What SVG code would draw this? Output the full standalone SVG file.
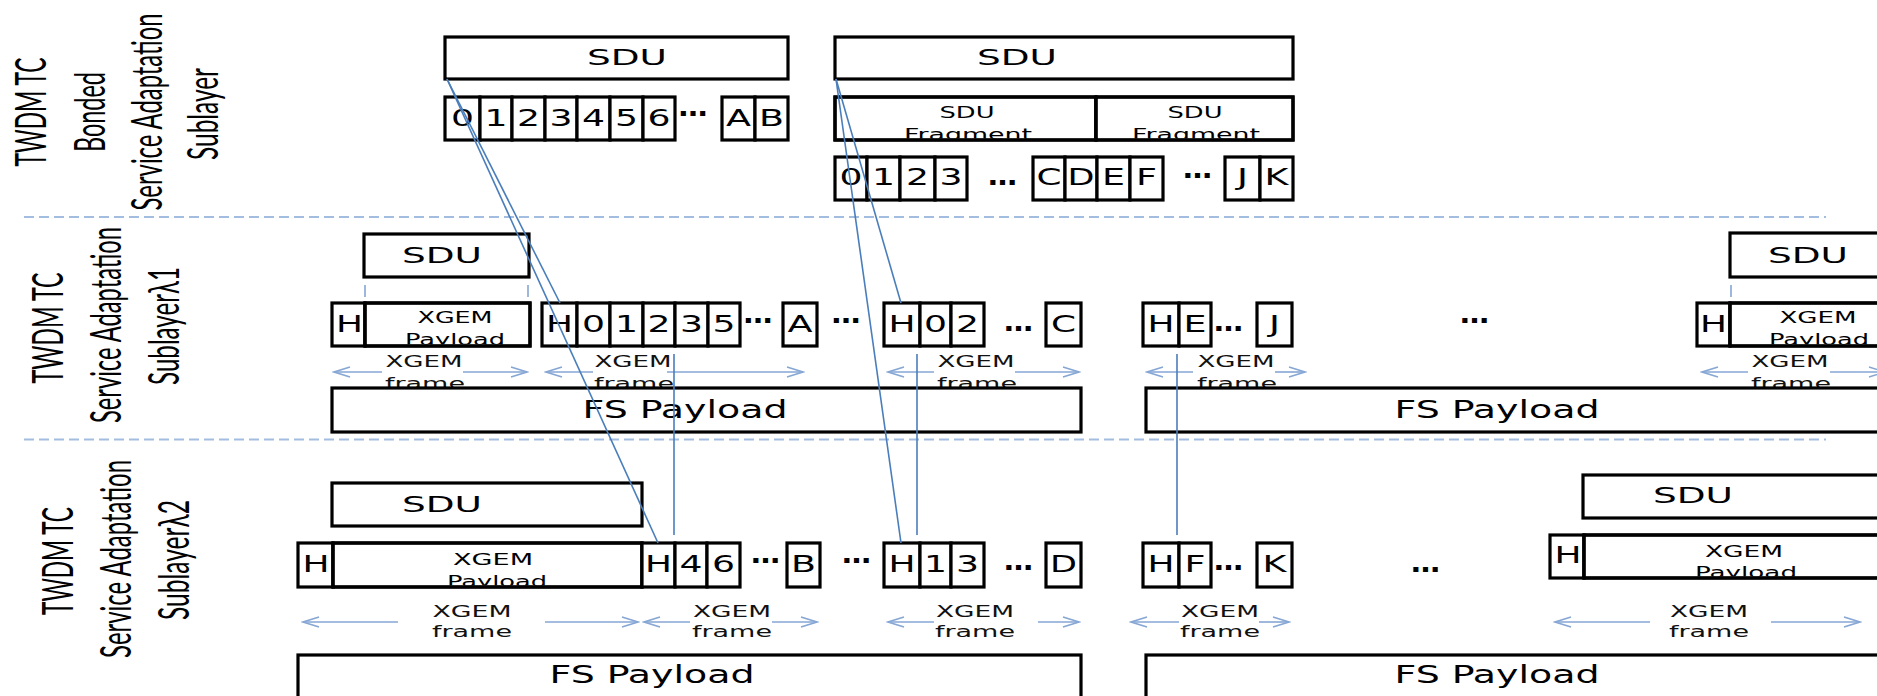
<svg xmlns="http://www.w3.org/2000/svg" width="1877" height="696" viewBox="0 0 1877 696">
<style>
.b{fill:#fff;stroke:#000;stroke-width:3.2}
.bo{fill:none;stroke:#000;stroke-width:3.2}
.t{font-family:"DejaVu Sans",sans-serif;fill:#000;text-anchor:middle}
.d{font-size:23px}
.s22{font-size:22px}
.s16{font-size:16px}
.s15{font-size:15px}
.s25{font-size:25px}
.el{font-family:"DejaVu Sans",sans-serif;font-size:26px;font-weight:bold;text-anchor:middle;fill:#000}
.lab{font-family:Lato,"Liberation Sans",sans-serif;font-size:24px;text-anchor:middle;fill:#000}
.sep{stroke:#a3bde0;stroke-width:1.8;stroke-dasharray:10 5;fill:none}
.conn{stroke:#4a7ebb;stroke-width:1.6;fill:none}
.arr{stroke:#86a6d4;stroke-width:1.6;fill:none}
.dash{stroke:#86a6d4;stroke-width:1.6}
.fr{font-family:"DejaVu Sans",sans-serif;font-size:16px;fill:#111;text-anchor:middle}
</style>
<defs>
<marker id="ah" markerUnits="userSpaceOnUse" markerWidth="20" markerHeight="14" viewBox="0 0 20 14" refX="18" refY="7" orient="auto">
<path d="M2,2 L18,7 L2,12" fill="none" stroke="#86a6d4" stroke-width="1.6"/>
</marker>
<clipPath id="cf1"><rect x="836" y="98" width="258" height="40.5"/></clipPath>
<clipPath id="cf2"><rect x="1097" y="98" width="194" height="40.5"/></clipPath>
<clipPath id="cp1"><rect x="366" y="304" width="162" height="40.5"/></clipPath>
<clipPath id="cp2"><rect x="1731" y="304" width="160" height="40.5"/></clipPath>
<clipPath id="cp3"><rect x="334" y="544" width="307" height="41.5"/></clipPath>
<clipPath id="cp4"><rect x="1585" y="536" width="300" height="40.5"/></clipPath>
</defs>
<rect x="0" y="0" width="1877" height="696" fill="#fff"/>

<g id="separators">
<line class="sep" x1="24" y1="217" x2="1826" y2="217"/>
<line class="sep" x1="24" y1="439.5" x2="1826" y2="439.5"/>
</g>

<g id="layer-labels">
<text class="lab" transform="translate(46,112) rotate(-90) scale(1,1.8)" textLength="109" lengthAdjust="spacingAndGlyphs">TWDM TC</text>
<text class="lab" transform="translate(105,112) rotate(-90) scale(1,1.8)" textLength="80" lengthAdjust="spacingAndGlyphs">Bonded</text>
<text class="lab" transform="translate(162,112) rotate(-90) scale(1,1.8)" textLength="197" lengthAdjust="spacingAndGlyphs">Service Adaptation</text>
<text class="lab" transform="translate(218,114) rotate(-90) scale(1,1.8)" textLength="92" lengthAdjust="spacingAndGlyphs">Sublayer</text>
<text class="lab" transform="translate(63,328) rotate(-90) scale(1,1.8)" textLength="111" lengthAdjust="spacingAndGlyphs">TWDM TC</text>
<text class="lab" transform="translate(121,325) rotate(-90) scale(1,1.8)" textLength="196" lengthAdjust="spacingAndGlyphs">Service Adaptation</text>
<text class="lab" transform="translate(179,326) rotate(-90) scale(1,1.8)" textLength="118" lengthAdjust="spacingAndGlyphs">Sublayerλ1</text>
<text class="lab" transform="translate(73,561) rotate(-90) scale(1,1.8)" textLength="108" lengthAdjust="spacingAndGlyphs">TWDM TC</text>
<text class="lab" transform="translate(131,559) rotate(-90) scale(1,1.8)" textLength="198" lengthAdjust="spacingAndGlyphs">Service Adaptation</text>
<text class="lab" transform="translate(189,560) rotate(-90) scale(1,1.8)" textLength="120" lengthAdjust="spacingAndGlyphs">Sublayerλ2</text>
</g>

<!-- Bonded layer -->
<g id="sdu-top-left">
<rect class="b" x="445" y="37" width="343" height="42"/>
<text class="t s22" x="627" y="65" textLength="80" lengthAdjust="spacingAndGlyphs">SDU</text>
</g>
<g id="sdu-top-right">
<rect class="b" x="835" y="37" width="458" height="42"/>
<text class="t s22" x="1017" y="65" textLength="80" lengthAdjust="spacingAndGlyphs">SDU</text>
</g>
<g id="fragment-1">
<rect class="b" x="835" y="97" width="261" height="43"/>
<g clip-path="url(#cf1)">
<text class="t s16" x="967" y="118" textLength="55" lengthAdjust="spacingAndGlyphs">SDU</text>
<text class="t s16" x="968" y="140" textLength="128" lengthAdjust="spacingAndGlyphs">Fragment</text>
</g>
<rect class="bo" x="835" y="97" width="261" height="43"/>
</g>
<g id="fragment-2">
<rect class="b" x="1096" y="97" width="197" height="43"/>
<g clip-path="url(#cf2)">
<text class="t s16" x="1195" y="118" textLength="55" lengthAdjust="spacingAndGlyphs">SDU</text>
<text class="t s16" x="1196" y="140" textLength="128" lengthAdjust="spacingAndGlyphs">Fragment</text>
</g>
<rect class="bo" x="1096" y="97" width="197" height="43"/>
</g>

<g id="blocks-left">
<rect class="b" x="445" y="97" width="35" height="43"/><text class="t d" x="462.5" y="126" textLength="23" lengthAdjust="spacingAndGlyphs">0</text>
<rect class="b" x="480" y="97" width="32" height="43"/><text class="t d" x="496" y="126" textLength="23" lengthAdjust="spacingAndGlyphs">1</text>
<rect class="b" x="512" y="97" width="33" height="43"/><text class="t d" x="528.5" y="126" textLength="23" lengthAdjust="spacingAndGlyphs">2</text>
<rect class="b" x="545" y="97" width="32" height="43"/><text class="t d" x="561" y="126" textLength="23" lengthAdjust="spacingAndGlyphs">3</text>
<rect class="b" x="577" y="97" width="33" height="43"/><text class="t d" x="593.5" y="126" textLength="23" lengthAdjust="spacingAndGlyphs">4</text>
<rect class="b" x="610" y="97" width="33" height="43"/><text class="t d" x="626.5" y="126" textLength="23" lengthAdjust="spacingAndGlyphs">5</text>
<rect class="b" x="643" y="97" width="32" height="43"/><text class="t d" x="659" y="126" textLength="23" lengthAdjust="spacingAndGlyphs">6</text>
<text class="el" x="693" y="115.5" textLength="29" lengthAdjust="spacingAndGlyphs">…</text>
<rect class="b" x="722" y="97" width="33" height="43"/><text class="t d" x="738.5" y="126" textLength="25" lengthAdjust="spacingAndGlyphs">A</text>
<rect class="b" x="755" y="97" width="33" height="43"/><text class="t d" x="771.5" y="126" textLength="25" lengthAdjust="spacingAndGlyphs">B</text>
</g>

<g id="blocks-right">
<rect class="b" x="835" y="157" width="32" height="43"/><text class="t d" x="851" y="185" textLength="23" lengthAdjust="spacingAndGlyphs">0</text>
<rect class="b" x="867" y="157" width="33" height="43"/><text class="t d" x="883.5" y="185" textLength="23" lengthAdjust="spacingAndGlyphs">1</text>
<rect class="b" x="900" y="157" width="35" height="43"/><text class="t d" x="917.5" y="185" textLength="23" lengthAdjust="spacingAndGlyphs">2</text>
<rect class="b" x="935" y="157" width="32" height="43"/><text class="t d" x="951" y="185" textLength="23" lengthAdjust="spacingAndGlyphs">3</text>
<text class="el" x="1002.5" y="184.5" textLength="29" lengthAdjust="spacingAndGlyphs">…</text>
<rect class="b" x="1033" y="157" width="32" height="43"/><text class="t d" x="1049" y="185" textLength="25" lengthAdjust="spacingAndGlyphs">C</text>
<rect class="b" x="1065" y="157" width="32" height="43"/><text class="t d" x="1081" y="185" textLength="27" lengthAdjust="spacingAndGlyphs">D</text>
<rect class="b" x="1097" y="157" width="33" height="43"/><text class="t d" x="1113.5" y="185" textLength="23" lengthAdjust="spacingAndGlyphs">E</text>
<rect class="b" x="1130" y="157" width="33" height="43"/><text class="t d" x="1146.5" y="185" textLength="21" lengthAdjust="spacingAndGlyphs">F</text>
<text class="el" x="1197.5" y="177.5" textLength="29" lengthAdjust="spacingAndGlyphs">…</text>
<rect class="b" x="1225" y="157" width="35" height="43"/><text class="t d" x="1242.5" y="185" textLength="11" lengthAdjust="spacingAndGlyphs">J</text>
<rect class="b" x="1260" y="157" width="33" height="43"/><text class="t d" x="1276.5" y="185" textLength="24" lengthAdjust="spacingAndGlyphs">K</text>
</g>

<!-- lambda 1 layer -->
<g id="l1-sdu-left">
<rect class="b" x="364" y="234" width="165" height="43"/>
<text class="t s22" x="442" y="263" textLength="80" lengthAdjust="spacingAndGlyphs">SDU</text>
<line class="dash" x1="365" y1="285" x2="365" y2="297"/>
<line class="dash" x1="528" y1="285" x2="528" y2="297"/>
</g>
<g id="l1-xgem-left">
<rect class="b" x="332" y="303" width="33" height="43"/><text class="t d" x="349.5" y="332" textLength="27" lengthAdjust="spacingAndGlyphs">H</text>
<rect class="b" x="365" y="303" width="165" height="43"/>
<g clip-path="url(#cp1)">
<text class="t s15" x="455" y="323" textLength="75" lengthAdjust="spacingAndGlyphs">XGEM</text>
<text class="t s15" x="455" y="345" textLength="100" lengthAdjust="spacingAndGlyphs">Payload</text>
</g>
<rect class="bo" x="365" y="303" width="165" height="43"/>
</g>
<g id="l1-xgem-2">
<rect class="b" x="542" y="303" width="35" height="43"/><text class="t d" x="559.5" y="332" textLength="27" lengthAdjust="spacingAndGlyphs">H</text>
<rect class="b" x="577" y="303" width="33" height="43"/><text class="t d" x="593.5" y="332" textLength="23" lengthAdjust="spacingAndGlyphs">0</text>
<rect class="b" x="610" y="303" width="33" height="43"/><text class="t d" x="626.5" y="332" textLength="23" lengthAdjust="spacingAndGlyphs">1</text>
<rect class="b" x="643" y="303" width="32" height="43"/><text class="t d" x="659" y="332" textLength="23" lengthAdjust="spacingAndGlyphs">2</text>
<rect class="b" x="675" y="303" width="33" height="43"/><text class="t d" x="691.5" y="332" textLength="23" lengthAdjust="spacingAndGlyphs">3</text>
<rect class="b" x="708" y="303" width="32" height="43"/><text class="t d" x="724" y="332" textLength="23" lengthAdjust="spacingAndGlyphs">5</text>
<text class="el" x="758" y="322.5" textLength="29" lengthAdjust="spacingAndGlyphs">…</text>
<rect class="b" x="783" y="303" width="34" height="43"/><text class="t d" x="800" y="332" textLength="25" lengthAdjust="spacingAndGlyphs">A</text>
</g>
<text class="el" x="846" y="322.5" textLength="29" lengthAdjust="spacingAndGlyphs">…</text>
<g id="l1-xgem-3">
<rect class="b" x="884" y="303" width="36" height="43"/><text class="t d" x="902" y="332" textLength="27" lengthAdjust="spacingAndGlyphs">H</text>
<rect class="b" x="920" y="303" width="31" height="43"/><text class="t d" x="935.5" y="332" textLength="23" lengthAdjust="spacingAndGlyphs">0</text>
<rect class="b" x="951" y="303" width="33" height="43"/><text class="t d" x="967.5" y="332" textLength="23" lengthAdjust="spacingAndGlyphs">2</text>
<text class="el" x="1018.5" y="330.5" textLength="29" lengthAdjust="spacingAndGlyphs">…</text>
<rect class="b" x="1046" y="303" width="35" height="43"/><text class="t d" x="1063.5" y="332" textLength="25" lengthAdjust="spacingAndGlyphs">C</text>
</g>
<g id="l1-xgem-4">
<rect class="b" x="1143" y="303" width="36" height="43"/><text class="t d" x="1161" y="332" textLength="27" lengthAdjust="spacingAndGlyphs">H</text>
<rect class="b" x="1179" y="303" width="32" height="43"/><text class="t d" x="1195" y="332" textLength="23" lengthAdjust="spacingAndGlyphs">E</text>
<text class="el" x="1228.5" y="330.5" textLength="29" lengthAdjust="spacingAndGlyphs">…</text>
<rect class="b" x="1257" y="303" width="35" height="43"/><text class="t d" x="1274.5" y="332" textLength="11" lengthAdjust="spacingAndGlyphs">J</text>
</g>
<text class="el" x="1474.5" y="322.5" textLength="29" lengthAdjust="spacingAndGlyphs">…</text>
<g id="l1-sdu-right">
<rect class="b" x="1730" y="233" width="170" height="44"/>
<text class="t s22" x="1808" y="263" textLength="80" lengthAdjust="spacingAndGlyphs">SDU</text>
<line class="dash" x1="1731" y1="285" x2="1731" y2="297"/>
</g>
<g id="l1-xgem-right">
<rect class="b" x="1697" y="303" width="33" height="43"/><text class="t d" x="1713.5" y="332" textLength="27" lengthAdjust="spacingAndGlyphs">H</text>
<rect class="b" x="1730" y="303" width="170" height="43"/>
<g clip-path="url(#cp2)">
<text class="t s15" x="1818" y="323" textLength="77" lengthAdjust="spacingAndGlyphs">XGEM</text>
<text class="t s15" x="1819" y="345" textLength="100" lengthAdjust="spacingAndGlyphs">Payload</text>
</g>
<rect class="bo" x="1730" y="303" width="170" height="43"/>
</g>

<g id="l1-frames">
<path class="arr" d="M382,372 H334" marker-end="url(#ah)"/><path class="arr" d="M463,372 H527" marker-end="url(#ah)"/>
<text class="fr" x="424" y="367" textLength="77" lengthAdjust="spacingAndGlyphs">XGEM</text><text class="fr" x="425" y="389" textLength="80" lengthAdjust="spacingAndGlyphs">frame</text>
<path class="arr" d="M593,372 H546" marker-end="url(#ah)"/><path class="arr" d="M667,372 H803" marker-end="url(#ah)"/>
<text class="fr" x="633" y="367" textLength="77" lengthAdjust="spacingAndGlyphs">XGEM</text><text class="fr" x="634" y="389" textLength="80" lengthAdjust="spacingAndGlyphs">frame</text>
<path class="arr" d="M934,372 H888" marker-end="url(#ah)"/><path class="arr" d="M1015,372 H1079" marker-end="url(#ah)"/>
<text class="fr" x="976" y="367" textLength="77" lengthAdjust="spacingAndGlyphs">XGEM</text><text class="fr" x="977" y="389" textLength="80" lengthAdjust="spacingAndGlyphs">frame</text>
<path class="arr" d="M1193,372 H1147" marker-end="url(#ah)"/><path class="arr" d="M1275,372 H1305" marker-end="url(#ah)"/>
<text class="fr" x="1236" y="367" textLength="77" lengthAdjust="spacingAndGlyphs">XGEM</text><text class="fr" x="1237" y="389" textLength="80" lengthAdjust="spacingAndGlyphs">frame</text>
<path class="arr" d="M1748,372 H1702" marker-end="url(#ah)"/><path class="arr" d="M1830,372 H1885" marker-end="url(#ah)"/>
<text class="fr" x="1790" y="367" textLength="77" lengthAdjust="spacingAndGlyphs">XGEM</text><text class="fr" x="1791" y="389" textLength="80" lengthAdjust="spacingAndGlyphs">frame</text>
</g>
<g id="l1-fs-1">
<rect class="b" x="332" y="388" width="749" height="44"/>
<text class="t s25" x="685" y="418" textLength="205" lengthAdjust="spacingAndGlyphs">FS Payload</text>
</g>
<g id="l1-fs-2">
<rect class="b" x="1146" y="388" width="760" height="44"/>
<text class="t s25" x="1497" y="418" textLength="205" lengthAdjust="spacingAndGlyphs">FS Payload</text>
</g>

<!-- lambda 2 layer -->
<g id="l2-sdu-left">
<rect class="b" x="332" y="483" width="310" height="43"/>
<text class="t s22" x="442" y="512" textLength="80" lengthAdjust="spacingAndGlyphs">SDU</text>
</g>
<g id="l2-xgem-left">
<rect class="b" x="298" y="543" width="35" height="44"/><text class="t d" x="316" y="572" textLength="27" lengthAdjust="spacingAndGlyphs">H</text>
<rect class="b" x="333" y="543" width="309" height="44"/>
<g clip-path="url(#cp3)">
<text class="t s16" x="493" y="565" textLength="80" lengthAdjust="spacingAndGlyphs">XGEM</text>
<text class="t s16" x="497" y="587" textLength="100" lengthAdjust="spacingAndGlyphs">Payload</text>
</g>
<rect class="bo" x="333" y="543" width="309" height="44"/>
</g>
<g id="l2-xgem-2">
<rect class="b" x="642" y="543" width="33" height="44"/><text class="t d" x="658.5" y="572" textLength="27" lengthAdjust="spacingAndGlyphs">H</text>
<rect class="b" x="675" y="543" width="32" height="44"/><text class="t d" x="691" y="572" textLength="23" lengthAdjust="spacingAndGlyphs">4</text>
<rect class="b" x="707" y="543" width="33" height="44"/><text class="t d" x="723.5" y="572" textLength="23" lengthAdjust="spacingAndGlyphs">6</text>
<text class="el" x="765.5" y="562.5" textLength="29" lengthAdjust="spacingAndGlyphs">…</text>
<rect class="b" x="787" y="543" width="33" height="44"/><text class="t d" x="803.5" y="572" textLength="25" lengthAdjust="spacingAndGlyphs">B</text>
</g>
<text class="el" x="856.5" y="562.5" textLength="29" lengthAdjust="spacingAndGlyphs">…</text>
<g id="l2-xgem-3">
<rect class="b" x="884" y="543" width="36" height="44"/><text class="t d" x="902" y="572" textLength="27" lengthAdjust="spacingAndGlyphs">H</text>
<rect class="b" x="920" y="543" width="31" height="44"/><text class="t d" x="935.5" y="572" textLength="23" lengthAdjust="spacingAndGlyphs">1</text>
<rect class="b" x="951" y="543" width="33" height="44"/><text class="t d" x="967.5" y="572" textLength="23" lengthAdjust="spacingAndGlyphs">3</text>
<text class="el" x="1018.5" y="569.5" textLength="29" lengthAdjust="spacingAndGlyphs">…</text>
<rect class="b" x="1046" y="543" width="35" height="44"/><text class="t d" x="1063.5" y="572" textLength="27" lengthAdjust="spacingAndGlyphs">D</text>
</g>
<g id="l2-xgem-4">
<rect class="b" x="1143" y="543" width="36" height="44"/><text class="t d" x="1161" y="572" textLength="27" lengthAdjust="spacingAndGlyphs">H</text>
<rect class="b" x="1179" y="543" width="32" height="44"/><text class="t d" x="1195" y="572" textLength="21" lengthAdjust="spacingAndGlyphs">F</text>
<text class="el" x="1228.5" y="569.5" textLength="29" lengthAdjust="spacingAndGlyphs">…</text>
<rect class="b" x="1257" y="543" width="35" height="44"/><text class="t d" x="1274.5" y="572" textLength="24" lengthAdjust="spacingAndGlyphs">K</text>
</g>
<text class="el" x="1425.5" y="571.5" textLength="29" lengthAdjust="spacingAndGlyphs">…</text>
<g id="l2-sdu-right">
<rect class="b" x="1583" y="475" width="317" height="43"/>
<text class="t s22" x="1693" y="503" textLength="80" lengthAdjust="spacingAndGlyphs">SDU</text>
</g>
<g id="l2-xgem-right">
<rect class="b" x="1550" y="535" width="34" height="43"/><text class="t d" x="1568" y="563" textLength="27" lengthAdjust="spacingAndGlyphs">H</text>
<rect class="b" x="1584" y="535" width="316" height="43"/>
<g clip-path="url(#cp4)">
<text class="t s16" x="1744" y="557" textLength="78" lengthAdjust="spacingAndGlyphs">XGEM</text>
<text class="t s16" x="1746" y="578" textLength="102" lengthAdjust="spacingAndGlyphs">Payload</text>
</g>
<rect class="bo" x="1584" y="535" width="316" height="43"/>
</g>

<g id="l2-frames">
<path class="arr" d="M398,622 H303" marker-end="url(#ah)"/><path class="arr" d="M545,622 H638" marker-end="url(#ah)"/>
<text class="fr" x="472" y="617" textLength="79" lengthAdjust="spacingAndGlyphs">XGEM</text><text class="fr" x="472" y="637" textLength="80" lengthAdjust="spacingAndGlyphs">frame</text>
<path class="arr" d="M690,622 H644" marker-end="url(#ah)"/><path class="arr" d="M772,622 H817" marker-end="url(#ah)"/>
<text class="fr" x="732" y="617" textLength="78" lengthAdjust="spacingAndGlyphs">XGEM</text><text class="fr" x="732" y="637" textLength="80" lengthAdjust="spacingAndGlyphs">frame</text>
<path class="arr" d="M934,622 H888" marker-end="url(#ah)"/><path class="arr" d="M1038,622 H1079" marker-end="url(#ah)"/>
<text class="fr" x="975" y="617" textLength="78" lengthAdjust="spacingAndGlyphs">XGEM</text><text class="fr" x="975" y="637" textLength="80" lengthAdjust="spacingAndGlyphs">frame</text>
<path class="arr" d="M1179,622 H1131" marker-end="url(#ah)"/><path class="arr" d="M1259,622 H1289" marker-end="url(#ah)"/>
<text class="fr" x="1220" y="617" textLength="78" lengthAdjust="spacingAndGlyphs">XGEM</text><text class="fr" x="1220" y="637" textLength="80" lengthAdjust="spacingAndGlyphs">frame</text>
<path class="arr" d="M1650,622 H1555" marker-end="url(#ah)"/><path class="arr" d="M1771,622 H1860" marker-end="url(#ah)"/>
<text class="fr" x="1709" y="617" textLength="78" lengthAdjust="spacingAndGlyphs">XGEM</text><text class="fr" x="1709" y="637" textLength="80" lengthAdjust="spacingAndGlyphs">frame</text>
</g>
<g id="l2-fs-1">
<rect class="b" x="298" y="655" width="783" height="60"/>
<text class="t s25" x="652" y="683" textLength="205" lengthAdjust="spacingAndGlyphs">FS Payload</text>
</g>
<g id="l2-fs-2">
<rect class="b" x="1146" y="655" width="760" height="60"/>
<text class="t s25" x="1497" y="683" textLength="205" lengthAdjust="spacingAndGlyphs">FS Payload</text>
</g>

<g id="connectors">
<line class="conn" x1="447" y1="79" x2="658" y2="543"/>
<line class="conn" x1="447" y1="79" x2="560" y2="303"/>
<line class="conn" x1="836" y1="79" x2="901" y2="303"/>
<line class="conn" x1="836" y1="79" x2="901" y2="543"/>
<line class="conn" x1="674" y1="354" x2="674" y2="535"/>
<line class="conn" x1="917" y1="354" x2="917" y2="535"/>
<line class="conn" x1="1177" y1="354" x2="1177" y2="535"/>
</g>
</svg>
